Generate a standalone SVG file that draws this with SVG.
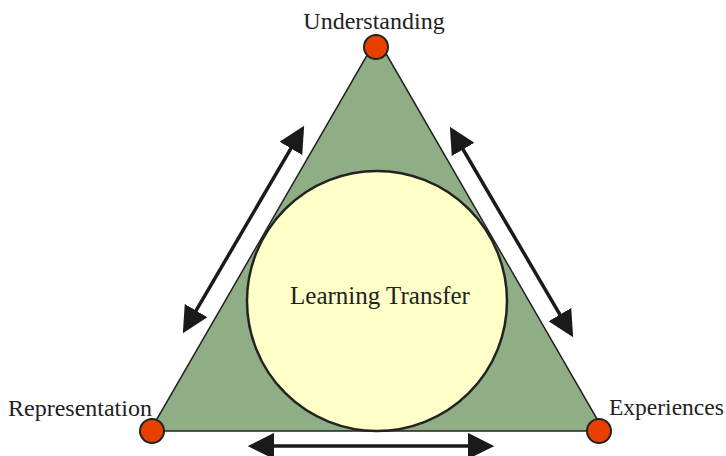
<svg xmlns="http://www.w3.org/2000/svg" width="726" height="456" viewBox="0 0 726 456">
<defs>
<style>
.lbl{font-family:"Liberation Serif","Times New Roman",serif;font-size:24px;fill:#222}
.vtx{fill:#e84000;stroke:#222;stroke-width:2}
.arr{stroke:#1a1a1a;stroke-width:3.5;fill:none;marker-start:url(#ah);marker-end:url(#ah)}
</style>
<marker id="ah" viewBox="0 0 10 10" refX="8" refY="5" markerWidth="7.5" markerHeight="7.5" markerUnits="strokeWidth" orient="auto-start-reverse">
<path d="M0,0 L10,5 L0,10 z" fill="#1a1a1a"/>
</marker>
</defs>
<g id="triangle">
<polygon points="377,38 604,431 150,431" fill="#8fae85" stroke="#222" stroke-width="1.5"/>
</g>
<g id="learning-transfer">
<circle cx="377" cy="301" r="130" fill="#ffffc8" stroke="#222" stroke-width="2.5"/>
<text class="lbl" x="380" y="304" text-anchor="middle" style="font-size:25px">Learning Transfer</text>
</g>
<g id="understanding">
<circle class="vtx" cx="376" cy="47" r="12"/>
<text class="lbl" x="374" y="29" text-anchor="middle">Understanding</text>
</g>
<g id="representation">
<circle class="vtx" cx="152" cy="431" r="12"/>
<text class="lbl" x="8" y="416">Representation</text>
</g>
<g id="experiences">
<circle class="vtx" cx="599" cy="431" r="12"/>
<text class="lbl" x="609" y="415" style="font-size:23.5px">Experiences</text>
</g>
<g id="connectors">
<line class="arr" x1="185.5" y1="328.7" x2="301.5" y2="130.3"/>
<line class="arr" x1="452.5" y1="131.3" x2="570.5" y2="332.7"/>
<line class="arr" x1="253" y1="446" x2="489" y2="446"/>
</g>
</svg>
